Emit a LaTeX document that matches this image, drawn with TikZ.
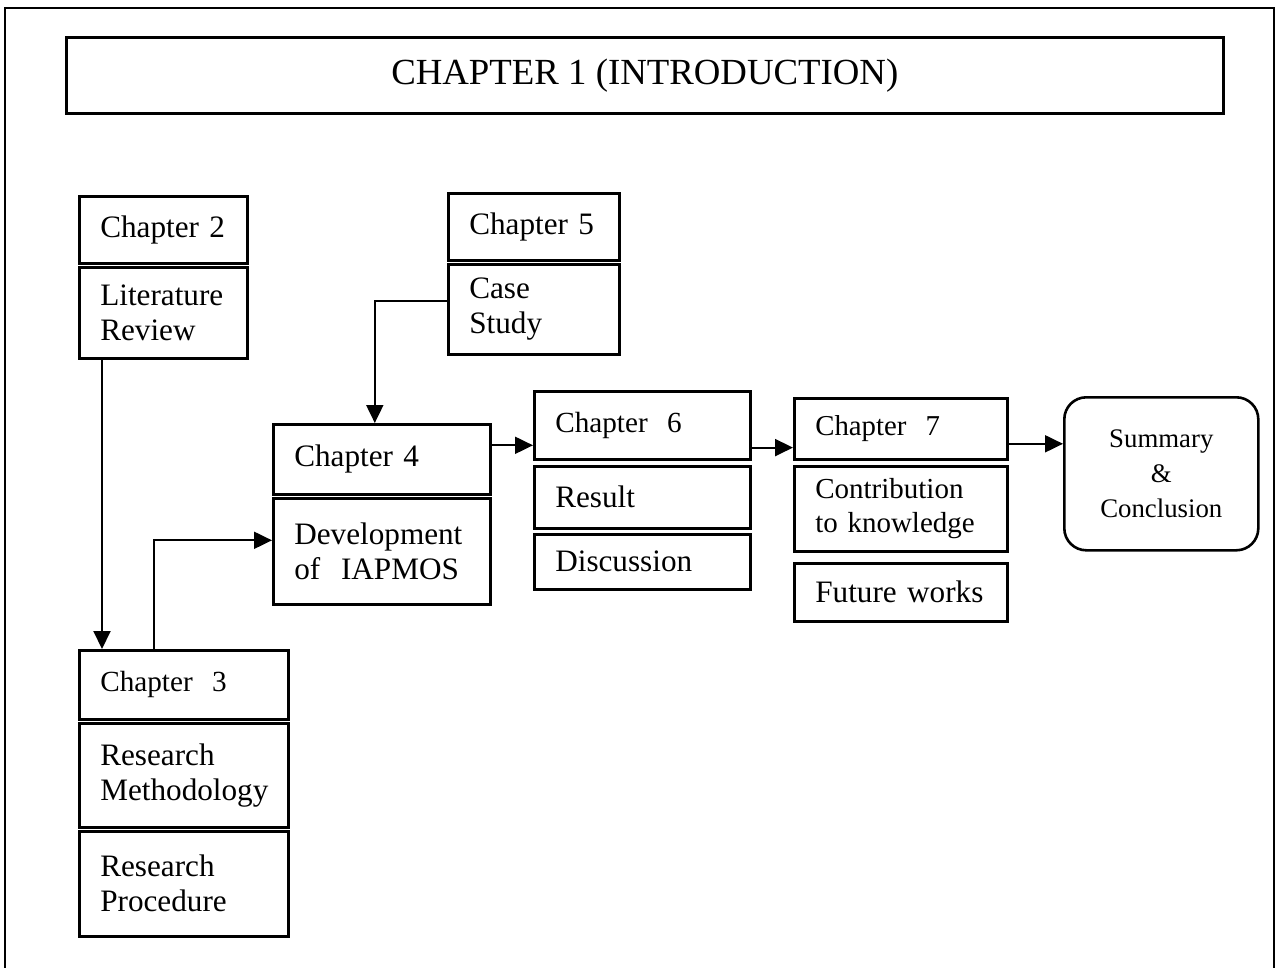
\documentclass[tikz,border=0pt]{standalone}
\usepackage{fontspec}
\setmainfont{Liberation Serif}
\usetikzlibrary{arrows.meta}

\tikzset{
  box/.style 2 args={draw, line width=1.3pt, anchor=north west, align=left,
    inner xsep=10.5pt, inner ysep=0pt, text width=#1, minimum height=#2,
    font=\fontsize{15.6}{17.5}\selectfont},
  arr/.style={line width=1pt, -{Triangle[length=9pt,width=8.5pt]}}
}

\begin{document}
\begin{tikzpicture}[x=0.5pt,y=-0.5pt]
        \useasboundingbox (0,0) rectangle (1279,968);
        % Outer frame
        \draw[line width=1.3pt] (5,968) -- (5,8) -- (1274,8) -- (1274,968);
        \node[draw, line width=1.3pt, anchor=north west, minimum width=578.5pt, minimum height=38pt,
              font=\fontsize{18.4}{20}\selectfont] (intro) at (65,36) {CHAPTER 1 (INTRODUCTION)};
        % Chapter boxes
        \node[box={63pt}{33.5pt}] (ch2) at (78,195) {Chapter 2};
        \node[box={63pt}{45.5pt}] (lit) at (78,266) {Literature\\Review};
        \node[box={64.5pt}{33.5pt}] (ch5) at (447,192) {Chapter 5};
        \node[box={64.5pt}{45pt}] (case) at (447,263) {Case\\Study};
        \node[box={87.5pt}{35pt}] (ch4) at (272,423) {Chapter 4};
        \node[box={87.5pt}{53pt}] (dev) at (272,497) {Development\\of\ \ IAPMOS};
        \node[box={87pt}{34pt}, font=\fontsize{14.6}{17}\selectfont] (ch6) at (533,390) {Chapter\ \ 6};
        \node[box={87pt}{31pt}] (res) at (533,465) {Result};
        \node[box={87pt}{27.5pt}] (disc) at (533,533) {Discussion};
        \node[box={85.5pt}{30.5pt}, font=\fontsize{14.4}{17}\selectfont] (ch7) at (793,397) {Chapter\ \ 7};
        \node[box={85.5pt}{42.5pt}, font=\fontsize{14.5}{17}\selectfont] (contr) at (793,465) {Contribution\\to knowledge};
        \node[box={85.5pt}{29pt}] (fut) at (793,562) {Future works};
        \node[draw, line width=1.3pt, rounded corners=11pt, anchor=north west, align=center,
              minimum width=97pt, minimum height=76.5pt, font=\fontsize{13.4}{17.5}\selectfont]
              (summ) at (1063,396) {Summary\\\&\\Conclusion};
        \node[box={83.5pt}{34.5pt}, font=\fontsize{14.6}{17}\selectfont] (ch3) at (78,649) {Chapter\ \ 3};
        \node[box={83.5pt}{52pt}] (meth) at (78,722) {Research\\Methodology};
        \node[box={83.5pt}{52.5pt}] (proc) at (78,830) {Research\\Procedure};
        % Connectors
        \draw[arr] ([xshift=12pt]lit.south west) -- ([xshift=12pt]ch3.north west);
        \draw[arr] ([xshift=38pt]ch3.north west) |- ([yshift=5.5pt]dev.west);
        \draw[arr] ([yshift=-19pt]case.north west) -| ([xshift=-3.5pt]ch4.north);
        \draw[arr] ([yshift=7pt]ch4.east) -- ([yshift=7pt]ch4.east -| ch6.west);
        \draw[arr] ([yshift=6.5pt]ch6.south east) -- ([yshift=6.5pt]ch6.south east -| ch7.west);
        \draw[arr] ([yshift=-7.5pt]ch7.east) -- ([yshift=-7.5pt]ch7.east -| summ.west);
    \end{tikzpicture}
\end{document}
